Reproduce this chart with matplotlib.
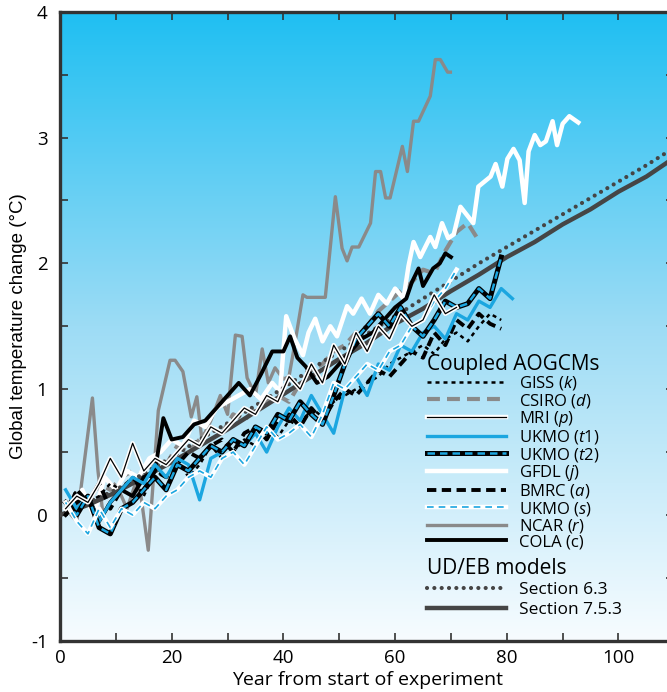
import matplotlib
matplotlib.use("Agg")
import matplotlib.pyplot as plt
import numpy as np
from matplotlib.colors import LinearSegmentedColormap
from matplotlib.lines import Line2D
from matplotlib.legend_handler import HandlerTuple

plt.rcParams['font.family'] = ['Open Sans', 'DejaVu Sans']
plt.rcParams['mathtext.fontset'] = 'custom'
plt.rcParams['mathtext.it'] = 'Open Sans:italic'
plt.rcParams['mathtext.rm'] = 'Open Sans'
plt.rcParams['axes.unicode_minus'] = False

# ---- data ----
ncar_x = [2, 3, 5.8, 6.8, 7.7, 9, 10.5, 12, 13.5, 14.5, 15.8, 17.6, 19.7, 20.6, 22, 23.5, 24.5, 25.4,
          27, 28.7, 30, 31.4, 32.6, 33.5, 35, 36.2, 37.3, 38.5, 40, 41, 42, 43.5, 44.2, 47.5, 49.3,
          50.5, 51.4, 52.3, 53.5, 55.6, 56.5, 57.4, 58.3, 59.1, 61.3, 62.2, 63.3, 64.2, 66.3, 67.2,
          68.1, 69.4, 69.9]
ncar_y = [0.0, -0.05, 0.93, 0.35, 0.0, 0.1, 0.2, 0.05, 0.25, 0.15, -0.28, 0.83, 1.23, 1.23, 1.14, 0.78,
          0.94, 0.6, 0.75, 0.95, 0.8, 1.43, 1.42, 1.09, 0.95, 1.32, 1.05, 1.17, 1.08, 1.1, 1.35, 1.75,
          1.73, 1.73, 2.53, 2.12, 2.02, 2.13, 2.13, 2.32, 2.73, 2.73, 2.52, 2.52, 2.93, 2.73, 3.13,
          3.13, 3.33, 3.62, 3.62, 3.52, 3.52]

gfdl_x = [2, 4, 6, 8, 10, 12, 14, 16, 18, 20, 22, 24, 26, 28, 30, 32, 34, 36, 38, 39.4, 40.5, 42,
          43.5, 44.5, 45.7, 47, 48.4, 49.6, 51.4, 52.5, 54, 55.5, 57, 58.5, 60, 61.5, 62.4, 63.3,
          64.5, 66.3, 67.2, 68.4, 69.5, 70.5, 71.7, 74, 74.9, 77.1, 78, 79.2, 80.1, 81.2, 82.3,
          83.2, 83.9, 85, 86, 87, 88.2, 89, 90, 91.2, 92.8]
gfdl_y = [0.05, 0.2, 0.0, 0.3, 0.2, 0.35, 0.3, 0.45, 0.5, 0.6, 0.55, 0.75, 0.7, 0.85, 0.9, 0.95, 1.0,
          0.92, 1.05, 0.98, 1.58, 1.4, 1.27, 1.45, 1.56, 1.38, 1.5, 1.42, 1.66, 1.6, 1.72, 1.6, 1.75,
          1.68, 1.8, 1.72, 1.98, 2.17, 2.05, 2.21, 2.13, 2.32, 2.2, 2.23, 2.45, 2.32, 2.61, 2.69,
          2.79, 2.61, 2.83, 2.91, 2.82, 2.48, 2.89, 3.02, 2.94, 2.97, 3.13, 2.94, 3.11, 3.17, 3.12]

csiro_x = [1, 3, 5, 7, 9, 11, 13, 15, 17, 19, 21, 23, 25, 27, 29, 31, 33, 35, 37, 39, 41, 43, 45,
           47, 49, 51, 53, 55, 57, 59, 61, 63, 65, 67, 69, 71, 73, 75]
csiro_y = [0.05, 0.15, 0.1, 0.25, 0.2, 0.3, 0.35, 0.3, 0.45, 0.4, 0.55, 0.5, 0.6, 0.7, 0.65, 0.8,
           0.75, 0.85, 0.9, 0.95, 0.9, 1.05, 1.15, 1.2, 1.3, 1.35, 1.45, 1.5, 1.62, 1.7, 1.78, 1.85,
           1.95, 1.92, 2.1, 2.25, 2.32, 2.18]

cola_x = [1, 3, 5, 7, 9, 11, 13, 15, 17, 18.5, 20, 22, 24, 26, 28, 30, 32, 34, 36, 38, 40, 41.2,
          42.5, 44, 46, 48, 50, 52, 54, 56, 58, 60, 62, 63, 64.2, 65, 66.8, 68, 69, 70]
cola_y = [0.0, 0.1, 0.15, -0.05, 0.1, 0.2, 0.15, 0.3, 0.35, 0.77, 0.6, 0.62, 0.72, 0.75, 0.85, 0.95,
          1.05, 0.95, 1.12, 1.3, 1.3, 1.42, 1.25, 1.18, 1.05, 1.1, 1.2, 1.3, 1.4, 1.45, 1.55, 1.65,
          1.72, 1.85, 1.96, 1.82, 1.96, 2.0, 2.08, 2.05]

yrs = [1, 3, 5, 7, 9, 11, 13, 15, 17, 19, 21, 23, 25, 27, 29, 31, 33, 35, 37, 39, 41, 43, 45, 47,
       49, 51, 53, 55, 57, 59, 61, 63, 65, 67, 69, 71, 73, 75, 77, 79]
giss_y = [0.05, 0.2, 0.1, 0.15, 0.25, 0.2, 0.3, 0.15, 0.35, 0.3, 0.45, 0.3, 0.4, 0.55, 0.45, 0.5,
          0.6, 0.55, 0.7, 0.62, 0.75, 0.7, 0.85, 0.78, 0.9, 0.95, 1.0, 1.05, 1.1, 1.2, 1.25, 1.3,
          1.35, 1.28, 1.4, 1.45, 1.38, 1.5, 1.6, 1.55]
bmrc_y = [0.0, 0.2, 0.1, 0.25, 0.05, 0.2, 0.3, 0.2, 0.35, 0.3, 0.4, 0.5, 0.45, 0.55, 0.6, 0.5, 0.65,
          0.7, 0.6, 0.75, 0.8, 0.7, 0.85, 0.75, 0.9, 1.0, 0.95, 1.05, 1.15, 1.1, 1.2, 1.3, 1.25,
          1.45, 1.35, 1.55, 1.48, 1.6, 1.52, 1.48]
ukmo_t2_y = [0.1, 0.0, 0.15, -0.1, -0.15, 0.05, 0.1, 0.2, 0.3, 0.2, 0.4, 0.35, 0.45, 0.55, 0.5, 0.6,
             0.55, 0.7, 0.65, 0.8, 0.75, 0.9, 0.8, 0.72, 0.95, 1.2, 1.4, 1.5, 1.6, 1.5, 1.65, 1.5,
             1.42, 1.55, 1.7, 1.65, 1.68, 1.8, 1.72, 2.05]

t1_x = [1, 3, 5, 7, 9, 11, 13, 15, 17, 19, 21, 23, 25, 27, 29, 31, 33, 35, 37, 39, 41, 43, 45, 47,
        49, 51, 53, 55, 57, 59, 61, 63, 65, 67, 69, 71, 73, 75, 77, 79, 81]
ukmo_t1_y = [0.2, 0.05, 0.15, -0.05, 0.1, 0.2, 0.3, 0.25, 0.4, 0.3, 0.45, 0.4, 0.12, 0.45, 0.5, 0.6,
             0.55, 0.65, 0.5, 0.7, 0.85, 0.75, 0.95, 0.8, 0.65, 1.0, 1.1, 0.95, 1.2, 1.15, 1.35, 1.3,
             1.45, 1.5, 1.4, 1.6, 1.55, 1.7, 1.65, 1.8, 1.72]

short_x = [1, 3, 5, 7, 9, 11, 13, 15, 17, 19, 21, 23, 25, 27, 29, 31, 33, 35, 37, 39, 41, 43, 45,
           47, 49, 51, 53, 55, 57, 59, 61, 63, 65, 67, 69, 71]
mri_y = [0.05, 0.15, 0.1, 0.25, 0.45, 0.3, 0.57, 0.35, 0.45, 0.4, 0.5, 0.6, 0.55, 0.7, 0.65, 0.75,
         0.85, 0.8, 0.95, 0.9, 1.1, 1.0, 1.2, 1.05, 1.35, 1.2, 1.45, 1.3, 1.5, 1.4, 1.6, 1.5, 1.55,
         1.75, 1.6, 1.65]
ukmo_s_y = [0.1, -0.05, -0.15, 0.05, -0.1, 0.05, 0.0, 0.1, 0.05, 0.15, 0.2, 0.3, 0.35, 0.3, 0.45, 0.5,
            0.4, 0.55, 0.7, 0.6, 0.65, 0.72, 0.62, 0.8, 1.05, 1.0, 1.1, 1.2, 1.15, 1.3, 1.35, 1.5,
            1.55, 1.7, 1.8, 1.95]

ud_x = [0, 5, 10, 15, 20, 25, 30, 35, 40, 45, 50, 55, 60, 65, 70, 75, 80, 85, 90, 95, 100, 105, 110]
sec_753 = [0.0, 0.08, 0.18, 0.3, 0.42, 0.55, 0.68, 0.82, 0.96, 1.1, 1.24, 1.37, 1.52, 1.64, 1.78,
           1.91, 2.05, 2.17, 2.31, 2.43, 2.57, 2.69, 2.84]
sec_63 = [0.0, 0.1, 0.2, 0.33, 0.46, 0.6, 0.73, 0.87, 1.01, 1.16, 1.3, 1.44, 1.58, 1.72, 1.86, 2.0,
          2.13, 2.26, 2.39, 2.52, 2.65, 2.78, 2.92]

CYAN = '#1ba6e0'
GREY = '#8a8a8a'
DARK = '#454545'

fig = plt.figure(figsize=(6.67, 6.92), dpi=100)
ax = fig.add_axes([0.09, 0.074, 0.921, 0.909])

# background gradient
bg = LinearSegmentedColormap.from_list('bg', ['#f7fcff', '#9ddcf5', '#1fbff2'])
grad = np.linspace(0, 1, 256).reshape(-1, 1)
ax.imshow(grad, extent=[0, 110, -1, 4], aspect='auto', cmap=bg, origin='lower', zorder=0)

ax.plot(ncar_x, ncar_y, color=GREY, lw=2.4, zorder=2)
ax.plot(csiro_x, csiro_y, color=GREY, lw=3, ls=(0, (3.1, 1.7)), zorder=2)
ax.plot(gfdl_x, gfdl_y, color='white', lw=3.2, zorder=3)
ax.plot(ud_x, sec_753, color=DARK, lw=3.2, zorder=3)
ax.plot(ud_x, sec_63, color=DARK, lw=3, ls=(0, (0.01, 1.75)), dash_capstyle='round', zorder=3)
ax.plot(cola_x, cola_y, color='black', lw=2.8, zorder=4)
ax.plot(yrs, bmrc_y, color='black', lw=2.8, ls=(0, (2.4, 1.4)), zorder=4)
ax.plot(yrs, giss_y, color='black', lw=1.8, ls=(0, (1.6, 1.6)), zorder=4)
ax.plot(t1_x, ukmo_t1_y, color=CYAN, lw=2.4, zorder=5)
ax.plot(yrs, ukmo_t2_y, color='black', lw=3.6, zorder=5)
ax.plot(yrs, ukmo_t2_y, color=CYAN, lw=1.8, ls=(0, (3, 2)), zorder=5)
ax.plot(short_x, ukmo_s_y, color='white', lw=3.2, zorder=6)
ax.plot(short_x, ukmo_s_y, color=CYAN, lw=1.2, ls=(0, (4, 3)), zorder=6)
ax.plot(short_x, mri_y, color='white', lw=3.2, zorder=6)
ax.plot(short_x, mri_y, color='black', lw=0.9, zorder=6)

ax.set_xlim(0, 110)
ax.set_ylim(-1, 4)
ax.set_xticks(np.arange(0, 101, 20))
ax.set_xticks(np.arange(10, 111, 20), minor=True)
ax.set_yticks(np.arange(-1, 5, 1))
ax.set_yticks(np.arange(-0.5, 4, 1), minor=True)
ax.tick_params(which='both', direction='in', length=6, width=1.2, color='#333333',
               top=True, right=True, labelsize=13.5)
ax.tick_params(axis='x', pad=6)
ax.tick_params(axis='y', pad=9)
for s in ax.spines.values():
    s.set_linewidth(2.4)
    s.set_color('#333333')

ax.set_xlabel('Year from start of experiment', fontsize=14, labelpad=3)
ax.set_ylabel('Global temperature change (°C)', fontsize=13.5, family='Liberation Sans', labelpad=3)

# legends
h1 = [
    Line2D([], [], color='black', lw=1.8, ls=(0, (1.6, 1.6))),
    Line2D([], [], color=GREY, lw=3, ls=(0, (3.1, 1.7))),
    (Line2D([], [], color='white', lw=3.2), Line2D([], [], color='black', lw=0.9)),
    Line2D([], [], color=CYAN, lw=2.4),
    (Line2D([], [], color='black', lw=3.6), Line2D([], [], color=CYAN, lw=1.8, ls=(0, (3, 2)))),
    Line2D([], [], color='white', lw=3.2),
    Line2D([], [], color='black', lw=2.8, ls=(0, (2.4, 1.4))),
    (Line2D([], [], color='white', lw=3.2), Line2D([], [], color=CYAN, lw=1.2, ls=(0, (4, 3)))),
    Line2D([], [], color=GREY, lw=2.4),
    Line2D([], [], color='black', lw=2.8),
]
l1 = ['GISS ($k$)', 'CSIRO ($d$)', 'MRI ($p$)', 'UKMO ($t1$)', 'UKMO ($t2$)', 'GFDL ($j$)',
      'BMRC ($a$)', 'UKMO ($s$)', 'NCAR ($r$)', 'COLA (c)']
leg1 = ax.legend(h1, l1, title='Coupled AOGCMs', loc='upper left', bbox_to_anchor=(0.598, 0.456),
                 frameon=False, fontsize=12, title_fontsize=15, handlelength=4.7,
                 labelspacing=-0.04, handletextpad=0.8, borderpad=0, borderaxespad=0,
                 handler_map={tuple: HandlerTuple(ndivide=1)})
ax.add_artist(leg1)

h2 = [Line2D([], [], color=DARK, lw=3, ls=(0, (0.01, 1.75)), dash_capstyle='round'),
      Line2D([], [], color=DARK, lw=3.2)]
leg2 = ax.legend(h2, ['Section 6.3', 'Section 7.5.3'], title='UD/EB models', loc='upper left',
                 bbox_to_anchor=(0.598, 0.132), frameon=False, fontsize=12.5, title_fontsize=15,
                 handlelength=4.5, labelspacing=0.19, handletextpad=0.8, borderpad=0,
                 borderaxespad=0, alignment='left')

fig.savefig('out.png', dpi=100)
